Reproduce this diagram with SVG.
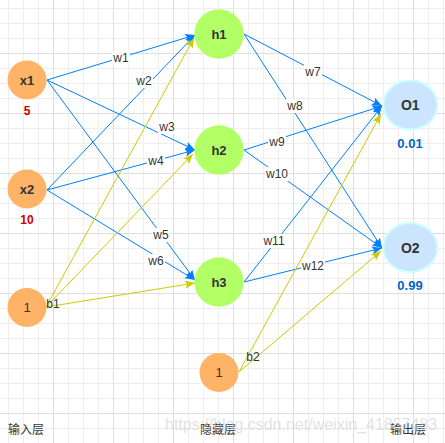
<svg xmlns="http://www.w3.org/2000/svg" width="445" height="443" viewBox="0 0 445 443">
<style>
.e{fill:none;stroke-width:1}
.eb{stroke:#007FFF;marker-end:url(#ab)}
.ey{stroke:#CCCC00;marker-end:url(#ay)}
.lbl{font-family:"Liberation Sans",Arial,sans-serif;font-size:12px;fill:#333;text-anchor:middle}
.bg{fill:#fff}
.nt{font-family:"Liberation Sans",Arial,sans-serif;font-size:13px;font-weight:bold;fill:#333;text-anchor:middle}
.nr{font-family:"Liberation Sans",Arial,sans-serif;font-size:13px;fill:#333;text-anchor:middle}
.in{fill:#FFB366}
.hid{fill:#B3FF66}
.out{fill:#CCE5FF;stroke:#CCFFFF;stroke-width:2}
.red{font-family:"Liberation Sans",Arial,sans-serif;font-size:12px;font-weight:bold;fill:#CC0000;text-anchor:middle}
.blue{font-family:"Liberation Sans",Arial,sans-serif;font-size:13px;font-weight:bold;fill:#0066CC;text-anchor:middle}
.layer{font-family:"Noto Sans CJK SC","Noto Sans",sans-serif;font-size:12px;fill:#333}
</style>
<defs>
<pattern id="gmin" patternUnits="userSpaceOnUse" x="8" y="8" width="15" height="15">
<path d="M0.5 0V15M0 0.5H15" stroke="#EEEEEE" stroke-width="1" fill="none"/>
</pattern>
<pattern id="gmaj" patternUnits="userSpaceOnUse" x="53" y="53" width="60" height="60">
<path d="M0.5 0V60M0 0.5H60" stroke="#DEDEDE" stroke-width="1" fill="none"/>
</pattern>
<marker id="ab" markerUnits="userSpaceOnUse" markerWidth="10" markerHeight="8" refX="10" refY="4" orient="auto">
<path d="M0 0L10 4L0 8L2 4Z" fill="#007FFF"/>
</marker>
<marker id="ay" markerUnits="userSpaceOnUse" markerWidth="10" markerHeight="8" refX="10" refY="4" orient="auto">
<path d="M0 0L10 4L0 8L2 4Z" fill="#CCCC00"/>
</marker>
</defs>
<rect width="445" height="443" fill="#fff"/>
<g id="grid">
<rect width="445" height="443" fill="url(#gmin)"/>
<rect width="445" height="443" fill="url(#gmaj)"/>
</g>
<g id="connectors">
<path class="e eb" d="M47 80L195 35"/>
<path class="e eb" d="M47 190L195 35"/>
<path class="e eb" d="M47 80L195 150"/>
<path class="e eb" d="M47 190L195 150"/>
<path class="e eb" d="M47 80L195 280"/>
<path class="e eb" d="M47 190L195 280"/>
<path class="e ey" d="M46 307L194 38"/>
<path class="e ey" d="M46 307L193 154"/>
<path class="e ey" d="M46 307L195 283"/>
<path class="e eb" d="M244 34L382 106"/>
<path class="e eb" d="M244 34L382 248"/>
<path class="e eb" d="M244 150L382 106"/>
<path class="e eb" d="M244 150L382 248"/>
<path class="e eb" d="M244 282L382 106"/>
<path class="e eb" d="M244 282L382 248"/>
<path class="e ey" d="M239 372L381 114"/>
<path class="e ey" d="M239 372L381 251"/>
<g id="edge-labels">
<rect class="bg" x="112" y="51" width="18" height="14"/><text class="lbl" x="121" y="62">w1</text>
<rect class="bg" x="135" y="74" width="18" height="14"/><text class="lbl" x="144" y="85">w2</text>
<rect class="bg" x="158" y="120" width="18" height="14"/><text class="lbl" x="167" y="131">w3</text>
<rect class="bg" x="147" y="154" width="18" height="14"/><text class="lbl" x="156" y="165">w4</text>
<rect class="bg" x="152" y="228" width="18" height="14"/><text class="lbl" x="161" y="239">w5</text>
<rect class="bg" x="147" y="254" width="18" height="14"/><text class="lbl" x="156" y="265">w6</text>
<text class="lbl" x="53" y="308">b1</text>
<rect class="bg" x="304" y="65" width="18" height="14"/><text class="lbl" x="313" y="76">w7</text>
<rect class="bg" x="286" y="99" width="18" height="14"/><text class="lbl" x="295" y="110">w8</text>
<rect class="bg" x="268" y="135" width="18" height="14"/><text class="lbl" x="277" y="146">w9</text>
<rect class="bg" x="265" y="167" width="24" height="14"/><text class="lbl" x="277" y="178">w10</text>
<rect class="bg" x="262" y="234" width="24" height="14"/><text class="lbl" x="274" y="245">w11</text>
<rect class="bg" x="301" y="259" width="24" height="14"/><text class="lbl" x="313" y="270">w12</text>
<text class="lbl" x="253" y="361">b2</text>
</g>
</g>
<g id="node-x1"><circle class="in" cx="27" cy="80" r="19.5"/><text class="nt" x="27" y="85">x1</text><text class="red" x="27" y="115">5</text></g>
<g id="node-x2"><circle class="in" cx="27" cy="189" r="19.5"/><text class="nt" x="27" y="194">x2</text><text class="red" x="27" y="224">10</text></g>
<g id="node-b1"><circle class="in" cx="27" cy="307.5" r="19.5"/><text class="nr" x="27" y="312">1</text></g>
<g id="node-h1"><circle class="hid" cx="219" cy="34" r="24.7"/><text class="nt" x="219" y="39">h1</text></g>
<g id="node-h2"><circle class="hid" cx="219" cy="150" r="24.7"/><text class="nt" x="219" y="155">h2</text></g>
<g id="node-h3"><circle class="hid" cx="219" cy="282" r="24.7"/><text class="nt" x="219" y="287">h3</text></g>
<g id="node-b2"><circle class="in" cx="219" cy="372.5" r="19.5"/><text class="nr" x="219" y="377">1</text></g>
<g id="node-o1"><ellipse class="out" cx="410.3" cy="105" rx="27" ry="24.5"/><text class="nt" x="410.3" y="110" style="font-size:14px">O1</text><text class="blue" x="410" y="148">0.01</text></g>
<g id="node-o2"><ellipse class="out" cx="410.3" cy="247.5" rx="27" ry="24.5"/><text class="nt" x="410.3" y="252.5" style="font-size:14px">O2</text><text class="blue" x="410" y="290">0.99</text></g>
<g id="layers">
<text class="layer" x="8" y="434">输入层</text>
<text class="layer" x="200" y="434">隐藏层</text>
<text class="layer" x="390" y="434">输出层</text>
</g>
<text x="165" y="430" font-family="Liberation Sans,Arial,sans-serif" font-size="16" fill="#CCCCCC" opacity="0.55">https://blog.csdn.net/weixin_41857483</text>
</svg>
